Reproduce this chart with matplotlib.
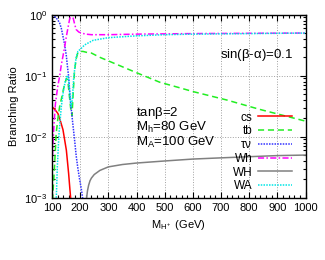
import numpy as np
import matplotlib
matplotlib.use('Agg')
import matplotlib.pyplot as plt

plt.rcParams['font.family'] = ['Liberation Sans', 'DejaVu Sans']
plt.rcParams['mathtext.fontset'] = 'custom'
plt.rcParams['mathtext.rm'] = 'Liberation Sans'
plt.rcParams['mathtext.it'] = 'Liberation Sans'
plt.rcParams['font.size'] = 7.8

# charged Higgs branching ratios
m_cs = [100, 110, 121, 130, 139, 151, 159, 164, 167]
br_cs = [0.031, 0.028, 0.024, 0.018, 0.013, 0.006, 0.0025, 0.0013, 0.0009]

m_tb = [102, 105, 109, 115, 121, 127, 135, 143, 151, 156, 161, 166, 171, 175, 180,
        186, 192, 200, 210, 225, 240, 270, 300, 350, 400, 483, 550, 600, 720, 838, 1000]
br_tb = [0.0009, 0.0016, 0.0033, 0.0115, 0.02, 0.031, 0.045, 0.067, 0.09, 0.085, 0.05,
         0.03, 0.022, 0.05, 0.12, 0.19, 0.24, 0.25, 0.25, 0.24, 0.235, 0.2, 0.175, 0.14,
         0.112, 0.078, 0.064, 0.055, 0.04, 0.028, 0.018]

m_taunu = [100, 110, 120, 127, 133, 139, 145, 151, 155, 159, 163, 166, 170, 175, 180,
           186, 192, 198, 204, 210]
br_taunu = [0.99, 0.93, 0.83, 0.73, 0.6, 0.44, 0.32, 0.21, 0.14, 0.097, 0.055, 0.036,
            0.024, 0.0146, 0.009, 0.0048, 0.003, 0.002, 0.0014, 0.0009]

m_wh = [100, 103, 106, 112, 120, 127, 133, 139, 145, 151, 157, 162, 166, 171, 176, 181,
        186, 195, 204, 220, 240, 300, 400, 600, 1000]
br_wh = [0.003, 0.007, 0.013, 0.034, 0.065, 0.097, 0.15, 0.21, 0.3, 0.44, 0.62, 0.82,
         0.94, 1.0, 0.85, 0.68, 0.57, 0.52, 0.5, 0.48, 0.47, 0.47, 0.48, 0.49, 0.5]

m_wH = [223, 226, 230, 235, 240, 250, 270, 300, 350, 400, 500, 600, 700, 800, 900, 1000]
br_wH = [0.001, 0.0013, 0.0016, 0.0019, 0.0021, 0.0024, 0.0028, 0.0032, 0.0035, 0.0037,
         0.004, 0.0043, 0.0045, 0.0047, 0.0049, 0.005]

m_wa = [115, 119, 125, 133, 140, 147, 153, 158, 163, 168, 172, 177, 182, 186, 192, 200,
        216, 246, 300, 400, 500, 600, 800, 1000]
br_wa = [0.0009, 0.0033, 0.0115, 0.031, 0.055, 0.08, 0.1, 0.095, 0.05, 0.031, 0.04, 0.09,
         0.15, 0.2, 0.25, 0.27, 0.32, 0.38, 0.42, 0.45, 0.47, 0.48, 0.49, 0.5]

fig = plt.figure(figsize=(3.25, 2.6), dpi=100)
ax = fig.add_axes([0.16, 0.2396, 0.78, 0.7039])

lw = 1.1
ax.plot(m_cs, br_cs, color='#ff0000', lw=lw, label='cs')
ax.plot(m_tb, br_tb, color='#22ee22', lw=lw, ls=(0, (4, 2.5)), label='tb')
ax.plot(m_taunu, br_taunu, color='#3333ff', lw=lw, ls=(0, (1, 0.8)), label=r'$\tau\nu$')
ax.plot(m_wh, br_wh, color='#ff00ff', lw=lw, ls=(0, (4, 1.5, 1, 1.5)), label='Wh')
ax.plot(m_wH, br_wH, color='#808080', lw=lw, label='WH')
ax.plot(m_wa, br_wa, color='#00e5e5', lw=lw, ls=(0, (1, 0.8)), label='WA')

ax.set_yscale('log')
ax.set_xlim(100, 1000)
ax.set_ylim(1e-3, 1)
ax.set_xticks(range(100, 1001, 100))
ax.set_xticks(range(100, 1001, 20), minor=True)
ax.set_yticks([1e-3, 1e-2, 1e-1, 1])
ax.set_yticklabels([r'$10^{-3}$', r'$10^{-2}$', r'$10^{-1}$', r'$10^{0}$'])
ax.tick_params(which='both', direction='in', top=True, right=True, width=0.8)
ax.tick_params(which='major', length=4, labelsize=8)
ax.tick_params(which='minor', length=2)
ax.grid(True, which='major', color='#a0a0a0', ls=':', lw=0.7)
for s in ax.spines.values():
    s.set_linewidth(1.0)

ax.set_xlabel(r'M$_{\mathrm{H^+}}$ (GeV)', fontsize=8)
ax.set_ylabel('Branching Ratio', fontsize=8)

fs = 9.5
ax.text(0.663, 0.78, r'sin($\beta$-$\alpha$)=0.1', transform=ax.transAxes, va='center', fontsize=fs)
ax.text(0.333, 0.463, r'tan$\beta$=2', transform=ax.transAxes, va='center', fontsize=fs)
ax.text(0.333, 0.384, r'M$_\mathrm{h}$=80 GeV', transform=ax.transAxes, va='center', fontsize=fs)
ax.text(0.333, 0.304, r'M$_\mathrm{A}$=100 GeV', transform=ax.transAxes, va='center', fontsize=fs)

ax.legend(loc='lower right', bbox_to_anchor=(0.981, -0.016), frameon=False,
          markerfirst=False, handlelength=2.9, handletextpad=0.5,
          labelspacing=0.15, borderpad=0.2, fontsize=8.5)

fig.savefig('out.png', dpi=100)
